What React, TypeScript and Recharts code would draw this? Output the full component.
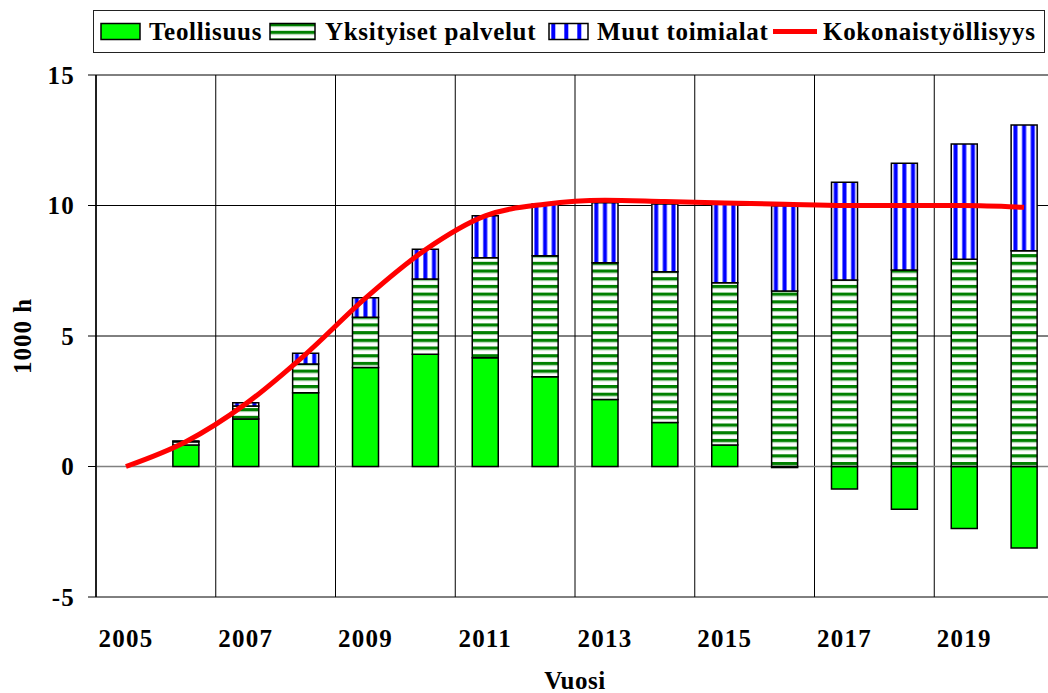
import React from 'react';
import {
    ComposedChart,
    Bar,
    Line,
    XAxis,
    YAxis,
    CartesianGrid,
} from 'recharts';

const years = [
    '2005', '2006', '2007', '2008', '2009', '2010', '2011', '2012',
    '2013', '2014', '2015', '2016', '2017', '2018', '2019', '2020',
];
const teollisuus = [0, 0.82, 1.82, 2.83, 3.79, 4.3, 4.17, 3.44, 2.57, 1.69, 0.82, -0.04, -0.86, -1.64, -2.38, -3.12];
const yksityiset = [0, 0.13, 0.5, 1.1, 1.93, 2.88, 3.83, 4.63, 5.24, 5.77, 6.22, 6.72, 7.15, 7.53, 7.94, 8.27];
const muut = [0, 0.03, 0.12, 0.41, 0.75, 1.14, 1.61, 1.99, 2.3, 2.6, 3.01, 3.27, 3.74, 4.09, 4.42, 4.81];
const kokonais = [0, 0.95, 2.4, 4.3, 6.45, 8.3, 9.6, 10.05, 10.2, 10.15, 10.1, 10.05, 10.0, 10.0, 10.0, 9.93];
const yTicks = [-5, 0, 5, 10, 15];

const FONT = "'Liberation Serif', 'Times New Roman', serif";

const data = years.map((year, i) => ({
    year,
    teollisuus: teollisuus[i],
    yksityiset: yksityiset[i],
    muut: muut[i],
    kokonais: kokonais[i],
}));

const tickStyle = {
    fill: '#000',
    fontSize: 25,
    fontWeight: 700,
    fontFamily: FONT,
    letterSpacing: 1.2,
};

// grid lines: every 5 units, vertical lines every second category boundary
const hLines = (v: number[]) => ({ offset }: any) =>
    v.map((val) => offset.top + ((15 - val) / 20) * offset.height);
const vLines = ({ offset }: any) =>
    [0, 2, 4, 6, 8, 10, 12, 14, 16].map((i) => offset.left + (i * offset.width) / years.length);

const Patterns = ({ prefix }: { prefix: string }) => (
    <defs>
        <pattern id={`${prefix}-green`} patternUnits="userSpaceOnUse" width="10" height="7.7">
            <rect x="0" y="0" width="10" height="7.7" fill="#fff" />
            <rect x="0" y="0" width="10" height="3.2" fill="#008000" />
            <rect x="0" y="3.2" width="10" height="0.8" fill="#9c9" />
        </pattern>
        <pattern id={`${prefix}-blue`} patternUnits="objectBoundingBox" width="0.3333" height="1">
            <rect x="0" y="0" width="20" height="1000" fill="#fff" />
            <rect x="2.3" y="0" width="4" height="1000" fill="#0000ff" />
        </pattern>
    </defs>
);

const legendText: React.CSSProperties = {
    position: 'absolute',
    top: 10,
    height: 43,
    display: 'flex',
    alignItems: 'center',
    fontFamily: FONT,
    fontWeight: 700,
    fontSize: 25,
    lineHeight: 1,
    letterSpacing: 0.7,
    whiteSpace: 'nowrap',
};

const ChartLegend = () => (
    <>
        <div
            style={{
                position: 'absolute',
                left: 93,
                top: 10,
                width: 952,
                height: 43,
                boxSizing: 'border-box',
                border: '1px solid #222',
                background: '#fff',
            }}
        />
        <svg style={{ position: 'absolute', left: 0, top: 0 }} width={1048} height={60}>
            <Patterns prefix="lg" />
            <rect x={101} y={23.5} width={39} height={16} fill="#00ff00" stroke="#000" strokeWidth={1.5} />
            <rect x={270} y={23.5} width={45} height={16} fill="url(#lg-green)" stroke="#000" strokeWidth={1.5} />
            <rect x={549} y={23.5} width={39} height={16} fill="url(#lg-blue)" stroke="#000" strokeWidth={1.5} />
            <line x1={773} x2={817} y1={31.5} y2={31.5} stroke="#ff0000" strokeWidth={5} />
        </svg>
        <div style={{ ...legendText, left: 149 }}>Teollisuus</div>
        <div style={{ ...legendText, left: 325 }}>Yksityiset palvelut</div>
        <div style={{ ...legendText, left: 597 }}>Muut toimialat</div>
        <div style={{ ...legendText, left: 823 }}>Kokonaistyöllisyys</div>
    </>
);

export default function App() {
    return (
        <div style={{ position: 'relative', width: 1048, height: 693, overflow: 'hidden', background: '#fff' }}>
            <style>{'body{margin:0}'}</style>
            <ComposedChart
                width={1070}
                height={693}
                data={data}
                stackOffset="sign"
                margin={{ top: 75, right: 16, bottom: 0, left: 0 }}
            >
                <Patterns prefix="ch" />
                <CartesianGrid
                    stroke="#000"
                    vertical={false}
                    horizontalCoordinatesGenerator={hLines([15, 10, 5, -5])}
                />
                <CartesianGrid
                    stroke="#000"
                    horizontal={false}
                    verticalCoordinatesGenerator={vLines}
                />
                <CartesianGrid
                    stroke="#808080"
                    strokeWidth={1.5}
                    vertical={false}
                    horizontalCoordinatesGenerator={hLines([0])}
                />
                <XAxis
                    dataKey="year"
                    interval={1}
                    height={96}
                    axisLine={false}
                    tickLine={false}
                    tickSize={8}
                    tickMargin={24}
                    tick={tickStyle}
                    label={{
                        value: 'Vuosi',
                        position: 'insideBottom',
                        offset: 4,
                        style: { ...tickStyle, letterSpacing: 0.5 },
                    }}
                />
                <YAxis
                    width={96}
                    domain={[-5, 15]}
                    ticks={yTicks}
                    allowDataOverflow
                    axisLine={{ stroke: '#000', strokeWidth: 1.5 }}
                    tickLine={{ stroke: '#000' }}
                    tickSize={8}
                    tickMargin={13}
                    tick={tickStyle}
                    label={{
                        value: '1000 h',
                        angle: -90,
                        position: 'center',
                        dx: -26,
                        style: { ...tickStyle, letterSpacing: 1 },
                    }}
                />
                <Bar dataKey="teollisuus" stackId="a" barSize={26} fill="#00ff00" stroke="#000" strokeWidth={1.5} isAnimationActive={false} />
                <Bar dataKey="yksityiset" stackId="a" barSize={26} fill="url(#ch-green)" stroke="#000" strokeWidth={1.5} isAnimationActive={false} />
                <Bar dataKey="muut" stackId="a" barSize={26} fill="url(#ch-blue)" stroke="#000" strokeWidth={1.5} isAnimationActive={false} />
                <Line
                    dataKey="kokonais"
                    type="monotone"
                    stroke="#ff0000"
                    strokeWidth={5}
                    dot={false}
                    activeDot={false}
                    isAnimationActive={false}
                />
            </ComposedChart>
            <ChartLegend />
        </div>
    );
}
